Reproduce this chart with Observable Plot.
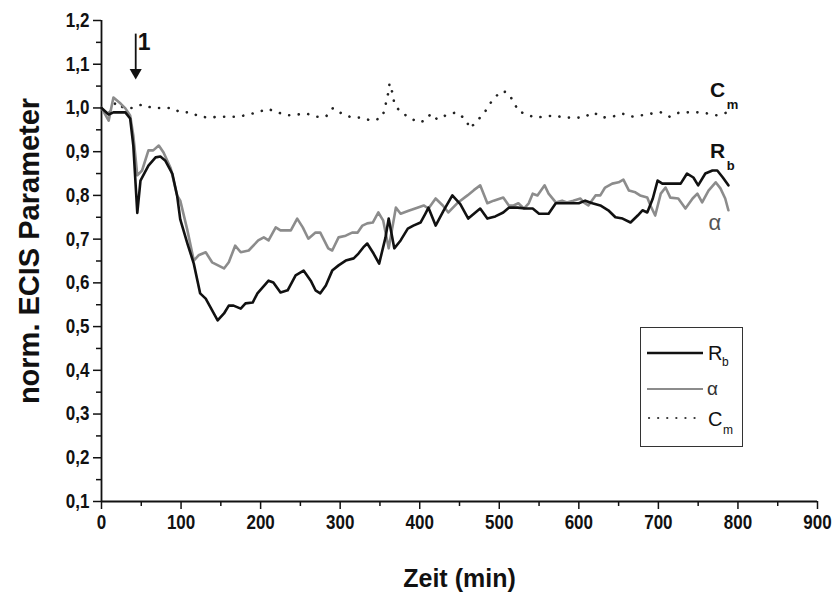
<!DOCTYPE html>
<html><head><meta charset="utf-8">
<script src="https://cdn.jsdelivr.net/npm/d3@7"></script>
<script src="https://cdn.jsdelivr.net/npm/@observablehq/plot@0.6"></script>
<style>
body{margin:0;background:#fff;}
#wrap{position:relative;width:832px;height:592px;font-family:"Liberation Sans",Arial,sans-serif;}
#legend{position:absolute;left:640px;top:327px;width:103px;height:120px;border:1.2px solid #333;box-sizing:border-box;background:#fff}
#legend svg{display:block}
</style></head><body><div id="wrap"></div>
<script>
// ---- data ----
const rbTime = [0,9,15,30,36,40,45,49,59,68,74,80,89,95,99,108,116,124,131,146,154,160,166,175,181,190,196,210,216,225,234,244,254,263,269,275,282,290,298,307,317,323,329,334,342,349,357,361,368,376,385,392,401,407,411,420,430,441,451,461,470,476,485,495,505,512,523,533,542,550,562,571,585,600,608,617,627,637,646,655,665,674,680,686,693,699,705,715,728,736,744,750,759,768,774,781,788];
const rbValue = [1.0,0.985,0.99,0.99,0.976,0.914,0.76,0.834,0.868,0.887,0.889,0.88,0.85,0.80,0.745,0.69,0.644,0.576,0.564,0.514,0.53,0.548,0.548,0.541,0.553,0.555,0.576,0.605,0.601,0.578,0.583,0.617,0.628,0.605,0.583,0.576,0.594,0.628,0.64,0.651,0.656,0.667,0.681,0.69,0.667,0.644,0.704,0.747,0.679,0.697,0.724,0.731,0.738,0.758,0.772,0.731,0.765,0.8,0.78,0.747,0.761,0.77,0.747,0.752,0.761,0.772,0.772,0.77,0.77,0.758,0.758,0.782,0.782,0.782,0.788,0.782,0.777,0.766,0.75,0.747,0.738,0.754,0.766,0.761,0.793,0.834,0.827,0.827,0.827,0.85,0.841,0.823,0.85,0.857,0.857,0.841,0.823];

const alphaTime = [0,9,15,24,30,36,40,45,51,59,65,72,78,87,95,99,108,116,122,131,139,154,160,168,175,185,197,204,210,219,225,238,246,253,260,269,275,285,290,298,307,315,322,328,334,341,348,354,361,370,376,386,397,405,411,420,429,436,447,460,468,476,485,493,505,512,518,524,531,537,542,548,557,562,571,579,585,593,602,606,612,621,627,633,642,650,656,663,671,677,686,690,696,703,709,715,725,734,743,749,755,763,772,778,784,788];
const alphaValue = [1.0,0.971,1.024,1.01,0.999,0.983,0.937,0.846,0.857,0.903,0.903,0.914,0.898,0.862,0.80,0.788,0.72,0.651,0.663,0.67,0.647,0.633,0.647,0.685,0.67,0.674,0.697,0.704,0.697,0.727,0.72,0.72,0.747,0.727,0.701,0.715,0.715,0.679,0.674,0.704,0.708,0.715,0.715,0.731,0.736,0.738,0.761,0.743,0.679,0.772,0.758,0.765,0.772,0.777,0.77,0.793,0.777,0.761,0.782,0.8,0.812,0.823,0.782,0.788,0.795,0.777,0.777,0.782,0.77,0.782,0.804,0.8,0.823,0.804,0.784,0.788,0.784,0.788,0.793,0.784,0.777,0.8,0.8,0.818,0.827,0.83,0.836,0.811,0.807,0.8,0.795,0.777,0.754,0.804,0.818,0.795,0.793,0.77,0.793,0.804,0.784,0.811,0.83,0.816,0.793,0.766];

const cmTime = [0,10,18,28,39,51,64,77,88,99,112,123,136,148,160,172,185,196,209,221,234,246,258,270,282,291,303,315,327,339,351,356,358,361,362,366,368,375,387,398,407,414,422,435,446,458,463,474,483,491,502,510,518,524,533,544,557,569,581,593,606,618,630,642,655,666,678,691,703,714,727,739,751,763,774,787];
const cmValue = [1.0,0.99,1.013,1.0,1.0,1.008,1.0,1.0,1.0,0.99,0.99,0.98,0.978,0.98,0.98,0.98,0.985,0.99,0.998,0.99,0.983,0.985,0.987,0.98,0.98,1.0,0.986,0.978,0.978,0.971,0.976,0.994,1.017,1.038,1.056,1.033,1.01,0.992,0.978,0.967,0.971,0.987,0.974,0.985,0.99,0.974,0.953,0.974,0.994,1.017,1.038,1.036,1.015,0.992,0.987,0.978,0.98,0.983,0.978,0.978,0.978,0.99,0.978,0.98,0.987,0.98,0.983,0.987,0.99,0.98,0.99,0.99,0.99,0.987,0.983,0.99];

const xTicks = [0,100,200,300,400,500,600,700,800,900];
const xMinor = [50,150,250,350,450,550,650,750,850];
const yTicks = [0.1,0.2,0.3,0.4,0.5,0.6,0.7,0.8,0.9,1.0,1.1,1.2];
const yMinor = [0.15,0.25,0.35,0.45,0.55,0.65,0.75,0.85,0.95,1.05,1.15];

// annotations
const arrowX = [43], arrowTop = [1.17], arrowHead = [1.081], arrowLabel = ["1"], arrowLabelX = [53.5], arrowLabelY = [1.15];
const seriesLabels = [
  {t: 765, v: 1.04, main: "C", sub: "m", subT: 786, subV: 1.008},
  {t: 765, v: 0.90, main: "R", sub: "b", subT: 786, subV: 0.868},
];
const alphaLabel = [{t: 763, v: 0.736, text: "α"}];

const rb = rbTime.map((t, i) => ({t, v: rbValue[i]}));
const al = alphaTime.map((t, i) => ({t, v: alphaValue[i]}));
const cm = cmTime.map((t, i) => ({t, v: cmValue[i]}));
const fmt = d => d.toFixed(1).replace(".", ",");
const FONT = "'Liberation Sans', Arial, sans-serif";

const chart = Plot.plot({
  width: 832, height: 592,
  marginLeft: 101, marginRight: 15, marginTop: 20, marginBottom: 91,
  x: {domain: [0, 900]},
  y: {domain: [0.1, 1.2]},
  style: {fontFamily: FONT, color: "#111", background: "#fff"},
  marks: [
    Plot.axisY(yTicks, {tickSize: 8, tickPadding: 4, tickFormat: fmt, fontSize: 20, fontWeight: "bold", label: null, strokeWidth: 1.5}),
    Plot.axisY(yMinor, {tickSize: 5, text: null, label: null, strokeWidth: 1.5}),
    Plot.axisX(xTicks, {tickSize: 8, tickPadding: 5, tickFormat: d => String(d), fontSize: 20, fontWeight: "bold", label: null, strokeWidth: 1.5}),
    Plot.axisX(xMinor, {tickSize: 5, text: null, label: null, strokeWidth: 1.5}),
    Plot.ruleX([0], {stroke: "#111", strokeWidth: 1.8}),
    Plot.ruleY([0.1], {stroke: "#111", strokeWidth: 1.8}),
    Plot.text(["norm. ECIS Parameter"], {frameAnchor: "left", dx: -72, dy: -10, rotate: -90, textAnchor: "middle", lineAnchor: "middle", fontSize: 29, fontWeight: "bold", fill: "#111"}),
    Plot.text(["Zeit (min)"], {frameAnchor: "bottom", dy: 77, textAnchor: "middle", lineAnchor: "middle", fontSize: 25, fontWeight: "bold", fill: "#111"}),
    Plot.line(cm, {x: "t", y: "v", stroke: "#222", strokeWidth: 2.6, strokeDasharray: "0.1 9.5", strokeLinecap: "round"}),
    Plot.line(al, {x: "t", y: "v", stroke: "#8c8c8c", strokeWidth: 2.6}),
    Plot.line(rb, {x: "t", y: "v", stroke: "#111", strokeWidth: 2.6}),
    Plot.link(arrowX, {x1: d => d, x2: d => d, y1: arrowTop[0], y2: arrowHead[0], stroke: "#111", strokeWidth: 1.8}),
    Plot.dot(arrowX, {x: d => d, y: arrowHead[0], symbol: "triangle", rotate: 180, r: 4.5, fill: "#111", stroke: "none"}),
    Plot.text(arrowLabel, {x: arrowLabelX[0], y: arrowLabelY[0], text: d => d, fontSize: 23, fontWeight: "bold", fill: "#111"}),
    Plot.text(seriesLabels, {x: "t", y: "v", text: "main", textAnchor: "start", lineAnchor: "middle", fontSize: 21, fontWeight: "bold", fill: "#111"}),
    Plot.text(seriesLabels, {x: "subT", y: "subV", text: "sub", textAnchor: "start", lineAnchor: "middle", fontSize: 13, fontWeight: "bold", fill: "#111"}),
    Plot.text(alphaLabel, {x: "t", y: "v", text: "text", textAnchor: "start", lineAnchor: "middle", fontSize: 22, fill: "#555"})
  ]
});

// condense the tick labels horizontally (the reference uses a narrow bold face)
chart.querySelectorAll('g[aria-label="x-axis tick label"] text, g[aria-label="y-axis tick label"] text').forEach(t => {
  let tr = t.getAttribute("transform");
  if (!tr) {
    const x = +t.getAttribute("x") || 0, y = +t.getAttribute("y") || 0;
    t.removeAttribute("x"); t.removeAttribute("y");
    tr = `translate(${x},${y})`;
  }
  t.setAttribute("transform", tr + " scale(0.85,1)");
});

const wrap = document.getElementById("wrap");
wrap.appendChild(chart);

// legend box
const legend = document.createElement("div");
legend.id = "legend";
legend.innerHTML = `<svg width="101" height="118" font-family="${FONT}">
  <line x1="6" x2="62" y1="25" y2="25" stroke="#111" stroke-width="2.6"/>
  <text x="67" y="32" font-size="20" fill="#111">R</text><text x="81" y="38" font-size="12" fill="#111">b</text>
  <line x1="6" x2="62" y1="61" y2="61" stroke="#8c8c8c" stroke-width="2"/>
  <text x="66" y="67" font-size="19" fill="#333">α</text>
  <line x1="8" x2="62" y1="90" y2="90" stroke="#333" stroke-width="2.2" stroke-dasharray="0.1 9" stroke-linecap="round"/>
  <text x="67" y="98" font-size="20" fill="#111">C</text><text x="82" y="106" font-size="12" fill="#111">m</text>
</svg>`;
wrap.appendChild(legend);
</script></body></html>
